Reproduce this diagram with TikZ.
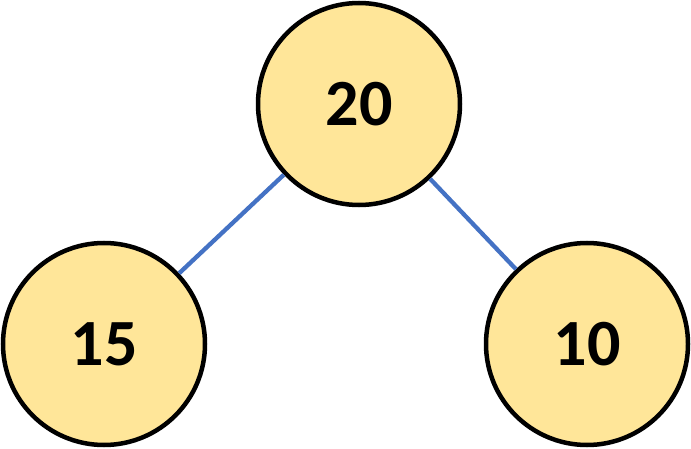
\documentclass[tikz,border=0pt]{standalone}
\usepackage{fontspec}
\setmainfont{Carlito}
\usepackage{tikz}
\definecolor{nodefill}{HTML}{FFE699}
\definecolor{edgeblue}{HTML}{4472C4}
\newcommand{\circsize}{202pt}

\begin{document}
\begin{tikzpicture}[x=1pt, y=1pt,
    circ/.style={draw, circle, line width=4.5pt, fill=nodefill, minimum size=\circsize, inner sep=0pt, font=\fontsize{66}{66}\selectfont\bfseries},
    edge/.style={draw=edgeblue, line width=4.3pt}]
    \useasboundingbox (0,0) rectangle (691,448);

    % First row
    \node[circ] (circ-1-1) at (359,344) {20};

    % Second row
    \node[circ] (circ-2-1) at (104,104) {15};
    \node[circ] (circ-2-2) at (587,104) {10};

    \draw[edge] (circ-1-1) -- (circ-2-1);
    \draw[edge] (circ-1-1) -- (circ-2-2);

\end{tikzpicture}
\end{document}
